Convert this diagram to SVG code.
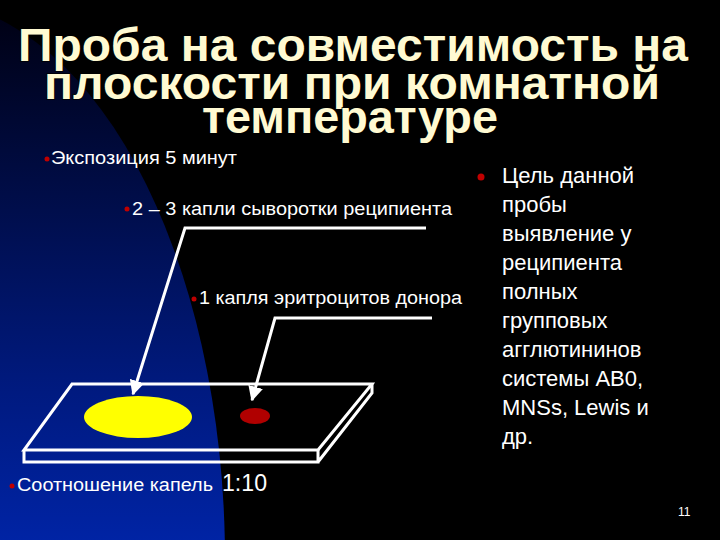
<svg xmlns="http://www.w3.org/2000/svg" width="720" height="540" viewBox="0 0 720 540">
<style>
.t{font-family:"Liberation Sans",Arial,sans-serif;fill:#fff}
.ti{font-family:"Liberation Sans",Arial,sans-serif;font-weight:bold;font-size:46px;fill:#fffad2;stroke:#000;stroke-width:1.5;paint-order:stroke}
.b{fill:#c00000}
.w{fill:none;stroke:#fff;stroke-width:3}
</style>
<defs>
<linearGradient id="bg" x1="0" y1="0" x2="0" y2="1">
<stop offset="0" stop-color="#000010"/><stop offset="0.35" stop-color="#001a80"/><stop offset="0.7" stop-color="#0033e0"/><stop offset="1" stop-color="#0040ff"/>
</linearGradient>
<marker id="ar" viewBox="0 0 10 10" refX="9" refY="5" markerWidth="5" markerHeight="5" orient="auto"><path d="M0,0L10,5L0,10z" fill="#fff"/></marker>
</defs>
<rect width="720" height="540" fill="#000"/>
<ellipse cx="-80" cy="560" rx="305" ry="560" fill="url(#bg)"/>
<g id="title">
<text class="ti" x="18" y="61" textLength="670" lengthAdjust="spacingAndGlyphs">Проба на совместимость на</text>
<text class="ti" x="44" y="99" textLength="616" lengthAdjust="spacingAndGlyphs">плоскости при комнатной</text>
<text class="ti" x="202" y="133" textLength="296" lengthAdjust="spacingAndGlyphs">температуре</text>
</g>
<g id="slide">
<path class="w" d="M72,384L372,384L318,450L24,450Z"/>
<path class="w" d="M24,450L24,462L318,462L318,450M318,462L372,393L372,384"/>
<ellipse cx="138" cy="417" rx="54" ry="21" fill="#ffff00"/>
<ellipse cx="255" cy="416" rx="15" ry="8" fill="#b00000"/>
</g>
<g id="connectors">
<path class="w" d="M426,228L185,228L133,394" stroke-width="2.5" marker-end="url(#ar)"/>
<path class="w" d="M432,318L275,318L252,400" stroke-width="2.5" marker-end="url(#ar)"/>
</g>
<g id="labels">
<circle class="b" cx="47" cy="159" r="2.5"/>
<text class="t" x="51" y="164" font-size="18" textLength="186" lengthAdjust="spacingAndGlyphs">Экспозиция 5 минут</text>
<circle class="b" cx="127" cy="209" r="2.5"/>
<text class="t" x="132" y="215" font-size="18" textLength="320" lengthAdjust="spacingAndGlyphs">2 – 3 капли сыворотки реципиента</text>
<circle class="b" cx="194" cy="299" r="2.5"/>
<text class="t" x="199" y="304" font-size="18" textLength="263" lengthAdjust="spacingAndGlyphs">1 капля эритроцитов донора</text>
<circle class="b" cx="12" cy="486" r="2.5"/>
<text class="t" x="17" y="491" font-size="18" textLength="196" lengthAdjust="spacingAndGlyphs">Соотношение капель</text>
<text class="t" x="222" y="491" font-size="24" textLength="45" lengthAdjust="spacingAndGlyphs">1:10</text>
<text class="t" x="678" y="516" font-size="12">11</text>
</g>
<g id="goal">
<circle class="b" cx="481" cy="177" r="3.5"/>
<text class="t" font-size="22">
<tspan x="502" y="183">Цель данной</tspan>
<tspan x="502" y="212">пробы</tspan>
<tspan x="502" y="241">выявление у</tspan>
<tspan x="502" y="270">реципиента</tspan>
<tspan x="502" y="299">полных</tspan>
<tspan x="502" y="328">групповых</tspan>
<tspan x="502" y="357">агглютининов</tspan>
<tspan x="502" y="386">системы AB0,</tspan>
<tspan x="502" y="415">MNSs, Lewis  и</tspan>
<tspan x="502" y="444">др.</tspan>
</text>
</g>
</svg>
